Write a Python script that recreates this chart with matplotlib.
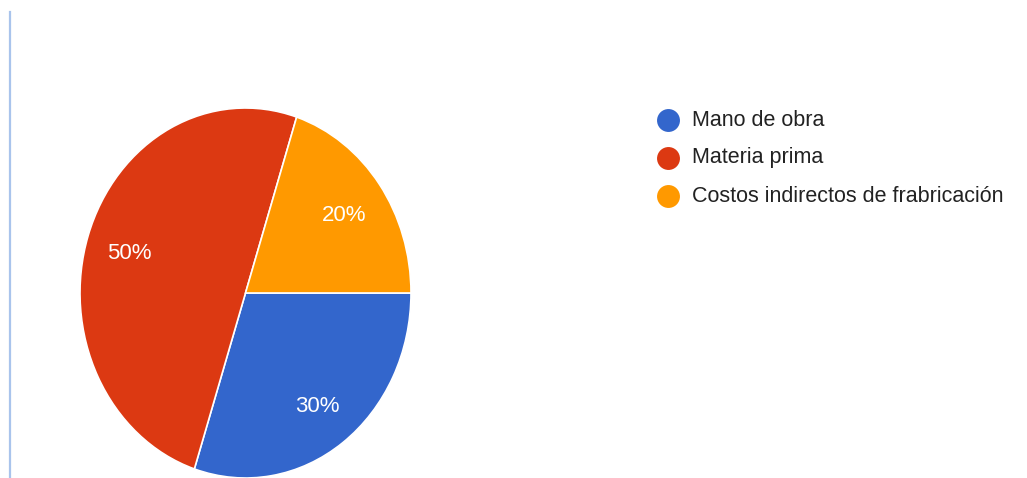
import matplotlib
matplotlib.use("Agg")
import matplotlib.pyplot as plt
from matplotlib.lines import Line2D

# Cost structure shares (percent)
categories = ["Mano de obra", "Materia prima", "Costos indirectos de frabricación"]
shares = [30, 50, 20]
colors = ["#3366CC", "#DC3912", "#FF9900"]

W, H = 1027, 478
fig = plt.figure(figsize=(W / 100, H / 100), dpi=100)
fig.patch.set_facecolor("white")

plt.rcParams["font.family"] = ["Liberation Sans", "DejaVu Sans"]

# Pie axes (slightly taller than wide, as in the page layout)
left, right, top, bottom = 80, 411, 108, 478
ax = fig.add_axes([left / W, (H - bottom) / H, (right - left) / W, (bottom - top) / H])
wedges, texts, autotexts = ax.pie(
    shares,
    colors=colors,
    startangle=0,
    counterclock=False,
    autopct="%d%%",
    pctdistance=0.74,
    wedgeprops=dict(edgecolor="white", linewidth=1.2),
    textprops=dict(color="white", fontsize=16),
)
for t in autotexts:
    t.set_va("center_baseline")
ax.set_aspect("auto")
ax.set_xlim(-1, 1)
ax.set_ylim(-1, 1)
for w in wedges:
    w.set_clip_on(False)

# Overlay in pixel coordinates for legend and page rule
ov = fig.add_axes([0, 0, 1, 1])
ov.set_xlim(0, W)
ov.set_ylim(H, 0)
ov.axis("off")
ov.patch.set_alpha(0)

# Vertical rule at the left edge
ov.add_line(Line2D([10, 10], [12, H], color="#a9c4ec", linewidth=1.6))

# Legend
leg_x, leg_y0, leg_dy = 668, 120, 38
for i, (name, col) in enumerate(zip(categories, colors)):
    y = leg_y0 + i * leg_dy
    ov.plot([leg_x], [y], marker="o", markersize=16.5, color=col, markeredgewidth=0)
    ov.text(leg_x + 24, y, name, fontsize=15.5, color="#222222", va="center", ha="left")

fig.savefig("out.png", dpi=100, facecolor="white")
